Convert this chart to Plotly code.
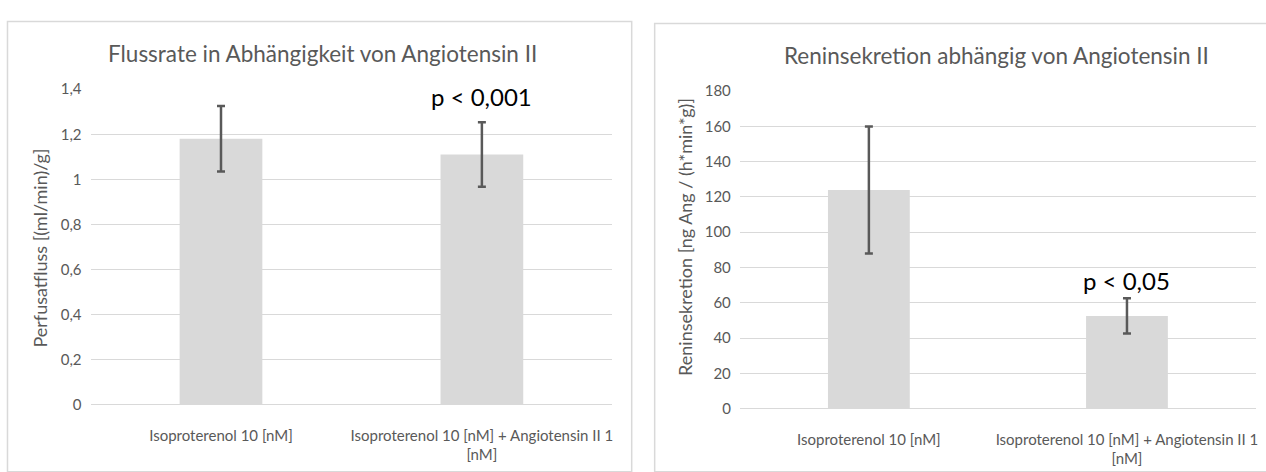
import plotly.graph_objects as go

# ---- data ----
categories = ["Isoproterenol 10 [nM]", "Isoproterenol 10 [nM] + Angiotensin II 1<br>[nM]"]
flow_mean = [1.18, 1.11]
flow_sd = [0.145, 0.143]
renin_mean = [124.0, 52.6]
renin_sd = [36.0, 10.0]

title_left = "Flussrate in Abhängigkeit von Angiotensin II"
title_right = "Reninsekretion abhängig von Angiotensin II"
ytitle_left = "Perfusatfluss [(ml/min)/g]"
ytitle_right = "Reninsekretion [ng Ang / (h*min*g)]"
pvals = ["p < 0,001", "p < 0,05"]

W, H = 1266, 472
FONT = "Lato, 'Open Sans', sans-serif"
GREY = "#595959"
LIGHT = "#d9d9d9"

def px(x):
    return x / W

def py(y):
    return 1 - y / H

fig = go.Figure()
fig.add_trace(go.Bar(
    x=categories, y=flow_mean, xaxis="x", yaxis="y",
    marker=dict(color=LIGHT, line=dict(width=0)),
    error_y=dict(type="data", array=flow_sd, color=GREY, thickness=2.5, width=4),
    showlegend=False, hoverinfo="skip",
))
fig.add_trace(go.Bar(
    x=categories, y=renin_mean, xaxis="x2", yaxis="y2",
    marker=dict(color=LIGHT, line=dict(width=0)),
    error_y=dict(type="data", array=renin_sd, color=GREY, thickness=2.5, width=4),
    showlegend=False, hoverinfo="skip",
))

tickfont = dict(family=FONT, size=15, color=GREY)
common_x = dict(showgrid=False, showline=False, zeroline=False, ticks="",
                tickfont=tickfont, ticklabelstandoff=20, fixedrange=True)
common_y = dict(showgrid=True, gridcolor=LIGHT, gridwidth=1.3, showline=False,
                zeroline=True, zerolinecolor=LIGHT, zerolinewidth=1.3,
                ticks="", tickfont=tickfont, ticklabelstandoff=8)

fig.update_layout(
    width=W, height=H,
    margin=dict(l=0, r=0, t=0, b=0),
    paper_bgcolor="white", plot_bgcolor="white",
    separators=",.",
    bargap=0.683,
    xaxis=dict(domain=[px(90.7), px(613.3)], anchor="y", **common_x),
    yaxis=dict(domain=[py(410.5), py(82.3)], anchor="x", range=[0, 1.4], dtick=0.2, **common_y),
    xaxis2=dict(domain=[px(741), px(1258)], anchor="y2", **common_x),
    yaxis2=dict(domain=[py(414.5), py(84.3)], anchor="x2", range=[0, 180], dtick=20, **common_y),
    font=dict(family=FONT, color=GREY),
)

shapes = [
    dict(type="rect", xref="paper", yref="paper", x0=px(7.5), x1=px(632.7), y0=py(480), y1=py(12),
         line=dict(color=LIGHT, width=1.5), fillcolor="rgba(0,0,0,0)", layer="below"),
    dict(type="rect", xref="paper", yref="paper", x0=px(655.7), x1=px(1330), y0=py(480), y1=py(14),
         line=dict(color=LIGHT, width=1.5), fillcolor="rgba(0,0,0,0)", layer="below"),
]
fig.update_layout(shapes=shapes)

ann = [
    dict(text=title_left, xref="paper", yref="paper", x=px(323), y=py(45), xanchor="center", yanchor="middle",
         showarrow=False, font=dict(family=FONT, size=22.5, color=GREY)),
    dict(text=title_right, xref="paper", yref="paper", x=px(998), y=py(47), xanchor="center", yanchor="middle",
         showarrow=False, font=dict(family=FONT, size=22.5, color=GREY)),
    dict(text=ytitle_left, xref="paper", yref="paper", x=px(40), y=py(247), xanchor="center", yanchor="middle",
         textangle=-90, showarrow=False, font=dict(family=FONT, size=18, color=GREY)),
    dict(text=ytitle_right, xref="paper", yref="paper", x=px(686), y=py(236), xanchor="center", yanchor="middle",
         textangle=-90, showarrow=False, font=dict(family=FONT, size=18, color=GREY)),
    dict(text=pvals[0], xref="x", yref="y", x=categories[1], y=1.367, xanchor="center", yanchor="middle",
         showarrow=False, font=dict(family=FONT, size=24, color="black")),
    dict(text=pvals[1], xref="x2", yref="y2", x=categories[1], y=72.5, xanchor="center", yanchor="middle",
         showarrow=False, font=dict(family=FONT, size=24, color="black")),
]
fig.update_layout(annotations=ann)

fig.write_html("out.html")
